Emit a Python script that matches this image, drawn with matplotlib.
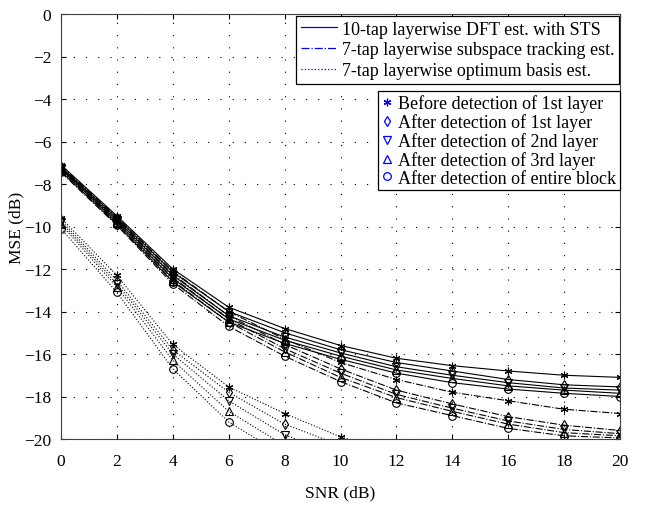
import matplotlib.pyplot as plt
from matplotlib.lines import Line2D
import numpy as np

plt.rcParams['font.family'] = ['Liberation Serif', 'DejaVu Serif']
plt.rcParams['font.size'] = 12.5

snr = [0, 2, 4, 6, 8, 10, 12, 14, 16, 18, 20]

# 10-tap layerwise DFT est. with STS (solid)
dft_before1 = [-7.1, -9.5, -12.0, -13.8, -14.8, -15.6, -16.2, -16.55, -16.8, -17.0, -17.1]
dft_after1 = [-7.2, -9.6, -12.15, -14.0, -15.0, -15.8, -16.4, -16.8, -17.2, -17.45, -17.55]
dft_after2 = [-7.25, -9.7, -12.3, -14.2, -15.2, -15.95, -16.6, -17.0, -17.35, -17.6, -17.7]
dft_after3 = [-7.3, -9.8, -12.45, -14.35, -15.35, -16.1, -16.75, -17.15, -17.5, -17.7, -17.85]
dft_block = [-7.4, -9.9, -12.6, -14.5, -15.5, -16.25, -16.9, -17.35, -17.65, -17.85, -18.0]

# 7-tap layerwise subspace tracking est. (dash-dot)
sst_before1 = [-7.15, -9.55, -12.1, -14.0, -15.3, -16.4, -17.2, -17.8, -18.2, -18.6, -18.8]
sst_after1 = [-7.2, -9.65, -12.25, -14.2, -15.55, -16.7, -17.7, -18.35, -18.95, -19.35, -19.6]
sst_after2 = [-7.3, -9.75, -12.4, -14.35, -15.75, -16.9, -17.9, -18.55, -19.15, -19.55, -19.75]
sst_after3 = [-7.35, -9.85, -12.55, -14.5, -15.9, -17.1, -18.05, -18.7, -19.3, -19.7, -19.85]
sst_block = [-7.45, -9.95, -12.7, -14.7, -16.1, -17.3, -18.3, -18.9, -19.5, -19.85, -19.95]

# 7-tap layerwise optimum basis est. (dotted)
opt_before1 = [-9.6, -12.3, -15.55, -17.55, -18.8, -19.9, -20.6, -21.1, -21.5, -21.8, -22.0]
opt_after1 = [-9.7, -12.55, -15.8, -17.8, -19.3, -20.3, -21.0, -21.5, -21.9, -22.2, -22.4]
opt_after2 = [-9.8, -12.7, -16.0, -18.2, -19.8, -20.8, -21.5, -22.0, -22.4, -22.7, -22.9]
opt_after3 = [-9.9, -12.85, -16.3, -18.7, -20.3, -21.3, -22.0, -22.5, -22.9, -23.2, -23.4]
opt_block = [-10.1, -13.1, -16.7, -19.2, -20.8, -21.8, -22.5, -23.0, -23.4, -23.7, -23.9]

styles = ['-', '-.', ':']
markers = [(6, 2, 0), 'd', 'v', '^', 'o']
groups = [
    [dft_before1, dft_after1, dft_after2, dft_after3, dft_block],
    [sst_before1, sst_after1, sst_after2, sst_after3, sst_block],
    [opt_before1, opt_after1, opt_after2, opt_after3, opt_block],
]
est_labels = ['10-tap layerwise DFT est. with STS',
              '7-tap layerwise subspace tracking est.',
              '7-tap layerwise optimum basis est.']
det_labels = ['Before detection of 1st layer', 'After detection of 1st layer',
              'After detection of 2nd layer', 'After detection of 3rd layer',
              'After detection of entire block']

fig = plt.figure(figsize=(6.62, 5.06), dpi=100)
ax = fig.add_axes([61/662, 66/506, 559/662, 425/506])

for ls, curves in zip(styles, groups):
    for mk, y in zip(markers, curves):
        ax.plot(snr, y, color='black', linestyle=ls, linewidth=0.8,
                marker=mk, markersize=5.5, markerfacecolor='none',
                markeredgewidth=0.8)

ax.set_xlim(0, 20)
ax.set_ylim(-20, 0)
ax.set_xticks(np.arange(0, 21, 2))
ax.set_yticks(np.arange(-20, 1, 2))
ax.grid(True, color='black', linestyle=(0, (1, 10)), linewidth=0.8)
ax.tick_params(direction='in', top=True, right=True, labelsize=12.5)
ax.tick_params(axis='x', pad=10)
ax.tick_params(axis='y', pad=7)
for s in ax.spines.values():
    s.set_color('#404040')
ax.set_xlabel('SNR (dB)', fontsize=12.5, labelpad=11)
ax.set_ylabel('MSE (dB)', fontsize=12.5, labelpad=0)

blue = '#0000ff'
h1 = [Line2D([], [], color=blue, linestyle=ls, linewidth=0.9) for ls in styles]
leg1 = ax.legend(h1, est_labels, loc='upper left', bbox_to_anchor=(296/662, 1 - 17/506),
                 bbox_transform=fig.transFigure, fancybox=False, edgecolor='black',
                 framealpha=1, fontsize=13, handlelength=2.0, handletextpad=0.3,
                 borderpad=0.25, labelspacing=0.22, borderaxespad=0)
leg1.get_frame().set_linewidth(0.9)
ax.add_artist(leg1)

h2 = [Line2D([], [], color=blue, linestyle='none', marker=mk, markersize=5.5,
             markerfacecolor='none', markeredgewidth=0.9)
      for mk in markers]
leg2 = ax.legend(h2, det_labels, loc='upper left', bbox_to_anchor=(378/662, 1 - 92/506),
                 bbox_transform=fig.transFigure, fancybox=False, edgecolor='black',
                 framealpha=1, fontsize=13, handlelength=0.6, handletextpad=0.3,
                 borderpad=0.2, labelspacing=0.05, borderaxespad=0)
leg2.get_frame().set_linewidth(0.9)

fig.savefig('out.png', dpi=100)
